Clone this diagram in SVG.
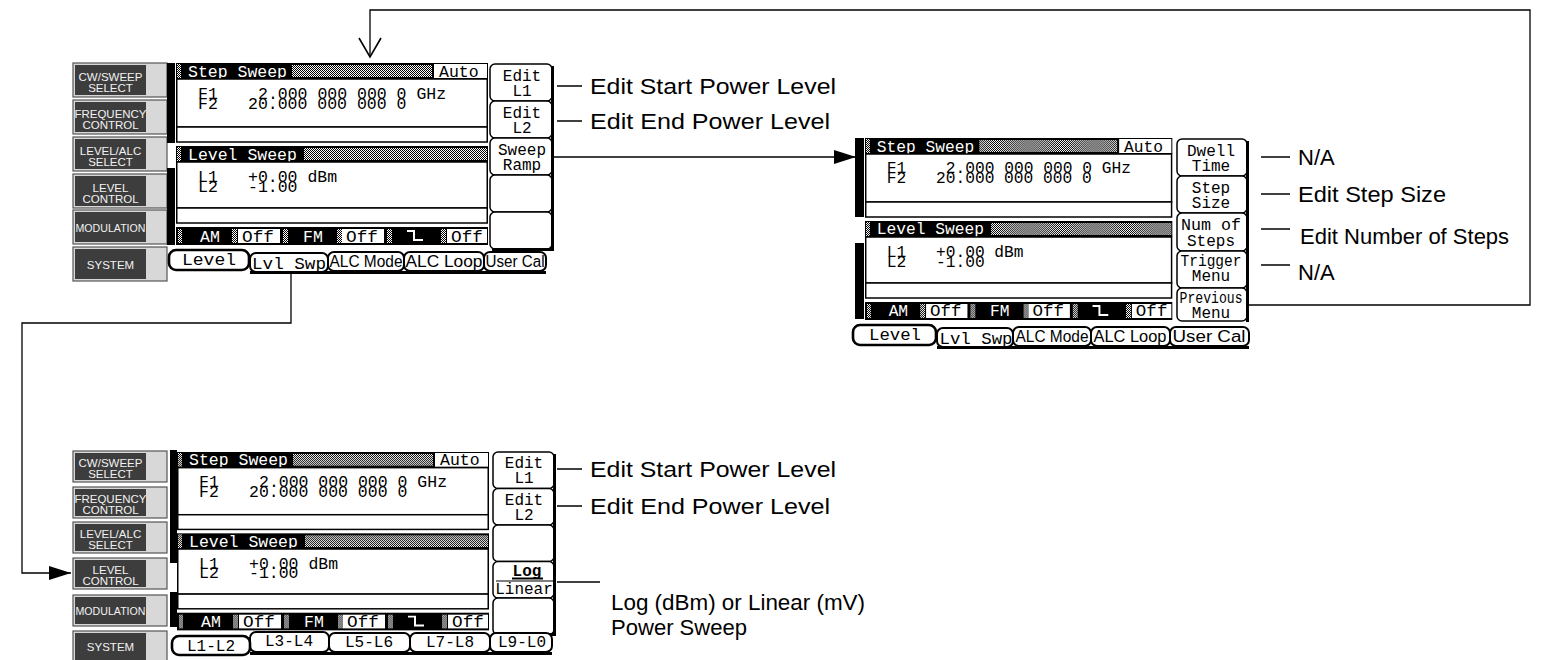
<svg xmlns="http://www.w3.org/2000/svg" width="1551" height="660" viewBox="0 0 1551 660">
<style>
.mono{font-family:"Liberation Mono","DejaVu Sans Mono",monospace;font-size:16.5px}
.w{fill:#fff}
.b{fill:#000}
.box{fill:#fff;stroke:#000;stroke-width:1.5}
.btnO{fill:#d8d8d8;stroke:#555;stroke-width:1.2}
.btnI{fill:#3d3d3d}
.btnT{font-family:"Liberation Sans",Arial,sans-serif;font-size:11.5px;fill:#f2f2f2;text-anchor:middle}
.sk{fill:#fff;stroke:#000;stroke-width:1.5}
.skT{font-family:"Liberation Mono","DejaVu Sans Mono",monospace;font-size:16px;text-anchor:middle}
.tab{fill:#fff;stroke:#000;stroke-width:2}
.tabA{fill:#fff;stroke:#000;stroke-width:2.6}
.tabT{font-family:"Liberation Mono","DejaVu Sans Mono",monospace;font-size:16px;text-anchor:middle}
.tabS{font-family:"Liberation Sans",Arial,sans-serif;font-size:16px;text-anchor:middle}
.lab{font-family:"Liberation Sans",Arial,sans-serif;font-size:22px;fill:#000}
.ld{stroke:#000;stroke-width:1.5}
.con{fill:none;stroke:#000;stroke-width:1.3}
</style>
<defs>
<pattern id="chk" width="2" height="2" patternUnits="userSpaceOnUse"><rect width="2" height="2" fill="#000"/><rect width="1" height="1" fill="#fff"/><rect x="1" y="1" width="1" height="1" fill="#fff"/></pattern>
<marker id="tri" markerUnits="userSpaceOnUse" markerWidth="24" markerHeight="16" refX="22" refY="7" orient="auto"><path d="M0,0 L22,7 L0,14 z" fill="#000"/></marker>
<marker id="vee" markerUnits="userSpaceOnUse" markerWidth="26" markerHeight="26" refX="20" refY="12" orient="auto"><path d="M1,1 L20,12 L1,23" fill="none" stroke="#000" stroke-width="1.6"/></marker>
<g id="scr">
<rect x="0" y="0" width="312" height="16" fill="#000"/>
<rect x="1" y="1" width="4" height="14" fill="url(#chk)"/>
<text x="12" y="13.5" class="mono w">Step Sweep</text>
<rect x="116" y="2" width="140" height="12" fill="url(#chk)"/>
<rect x="258" y="1" width="53" height="14" fill="#fff"/>
<text x="263" y="13.5" class="mono b">Auto</text>
<rect x="0.75" y="16" width="310.5" height="48" class="box"/>
<text x="22" y="35.5" class="mono b">F1</text>
<text x="82" y="35.5" class="mono b">2.000 000 000 0 GHz</text>
<text x="22" y="45.5" class="mono b">F2</text>
<text x="72" y="45.5" class="mono b">20.000 000 000 0</text>
<rect x="0.75" y="64" width="310.5" height="15" class="box"/>
<rect x="0" y="83" width="312" height="16" fill="#000"/>
<rect x="1" y="84" width="4" height="14" fill="url(#chk)"/>
<text x="12" y="96.5" class="mono w">Level Sweep</text>
<rect x="128" y="85" width="183" height="12" fill="url(#chk)"/>
<rect x="0.75" y="99" width="310.5" height="46" class="box"/>
<text x="22" y="119" class="mono b">L1</text>
<text x="72" y="119" class="mono b">+0.00 dBm</text>
<text x="22" y="129" class="mono b">L2</text>
<text x="72" y="129" class="mono b">-1.00</text>
<rect x="0.75" y="145" width="310.5" height="15" class="box"/>
<rect x="0" y="164" width="312" height="18" fill="#000"/>
<rect x="2" y="166" width="4" height="14" fill="url(#chk)"/>
<text x="24" y="178.5" class="mono w">AM</text>
<rect x="56" y="166" width="5" height="14" fill="url(#chk)"/>
<rect x="62" y="166" width="42" height="14" fill="#fff"/>
<text x="66" y="178.5" class="mono b" textLength="32" lengthAdjust="spacingAndGlyphs">Off</text>
<rect x="107" y="166" width="5" height="14" fill="url(#chk)"/>
<text x="127" y="178.5" class="mono w">FM</text>
<rect x="161" y="166" width="5" height="14" fill="url(#chk)"/>
<rect x="166" y="166" width="42" height="14" fill="#fff"/>
<text x="170" y="178.5" class="mono b" textLength="32" lengthAdjust="spacingAndGlyphs">Off</text>
<rect x="211" y="166" width="5" height="14" fill="url(#chk)"/>
<path d="M231,168 H238 V177 H247" fill="none" stroke="#fff" stroke-width="2"/>
<rect x="265" y="166" width="5" height="14" fill="url(#chk)"/>
<rect x="271" y="166" width="40" height="14" fill="#fff"/>
<text x="275" y="178.5" class="mono b" textLength="32" lengthAdjust="spacingAndGlyphs">Off</text>
</g>
</defs>
<rect width="1551" height="660" fill="#fff"/>

<!-- Top-left screen -->
<g id="screen-top">
<g id="buttons-top">
<rect x="73" y="63" width="94" height="34" class="btnO"/><rect x="75" y="65" width="71" height="30" class="btnI"/>
<text x="110.5" y="81" class="btnT">CW/SWEEP</text><text x="110.5" y="92" class="btnT">SELECT</text>
<rect x="73" y="100" width="94" height="34" class="btnO"/><rect x="75" y="102" width="71" height="30" class="btnI"/>
<text x="110.5" y="118" class="btnT" textLength="72" lengthAdjust="spacingAndGlyphs">FREQUENCY</text><text x="110.5" y="129" class="btnT">CONTROL</text>
<rect x="73" y="137" width="94" height="34" class="btnO"/><rect x="75" y="139" width="71" height="30" class="btnI"/>
<text x="110.5" y="155" class="btnT">LEVEL/ALC</text><text x="110.5" y="166" class="btnT">SELECT</text>
<rect x="73" y="174" width="94" height="34" class="btnO"/><rect x="75" y="176" width="71" height="30" class="btnI"/>
<text x="110.5" y="192" class="btnT">LEVEL</text><text x="110.5" y="203" class="btnT">CONTROL</text>
<rect x="73" y="210" width="94" height="34" class="btnO"/><rect x="75" y="212" width="71" height="30" class="btnI"/>
<text x="110.5" y="232" class="btnT" textLength="70" lengthAdjust="spacingAndGlyphs">MODULATION</text>
<rect x="73" y="247" width="94" height="34" class="btnO"/><rect x="75" y="249" width="71" height="30" class="btnI"/>
<text x="110.5" y="269" class="btnT">SYSTEM</text>
</g>
<rect x="167" y="63" width="8" height="80" fill="#000"/>
<rect x="167" y="168" width="8" height="77" fill="#000"/>
<use href="#scr" transform="translate(176,63)"/>
<g id="softkeys-top">
<rect x="490" y="64" width="62" height="37" rx="5" class="sk"/>
<rect x="490" y="101" width="62" height="37" rx="5" class="sk"/>
<rect x="490" y="138" width="62" height="37" rx="5" class="sk"/>
<rect x="490" y="175" width="62" height="37" rx="5" class="sk"/>
<rect x="490" y="212" width="62" height="37" rx="5" class="sk"/>
<rect x="551" y="66" width="3" height="184" fill="#000"/>
<rect x="492" y="248" width="62" height="3" fill="#000"/>
<text x="522" y="81" class="skT">Edit</text><text x="522" y="96" class="skT">L1</text>
<text x="522" y="118" class="skT">Edit</text><text x="522" y="133" class="skT">L2</text>
<text x="522" y="155" class="skT">Sweep</text><text x="522" y="170" class="skT">Ramp</text>
</g>
<g id="tabs-top">
<rect x="250" y="253" width="78" height="19" rx="6" class="tab"/>
<rect x="328" y="252" width="76" height="19" rx="6" class="tab"/>
<rect x="404" y="252" width="80" height="19" rx="6" class="tab"/>
<rect x="484" y="252" width="62" height="19" rx="6" class="tab"/>
<rect x="250" y="271" width="296" height="3" fill="#000"/>
<rect x="169" y="250" width="80" height="20" rx="7" class="tabA"/>
<text x="209" y="265" class="tabT" textLength="54" lengthAdjust="spacingAndGlyphs">Level</text>
<text x="289" y="269" class="tabT" textLength="74" lengthAdjust="spacingAndGlyphs">Lvl Swp</text>
<text x="366" y="267" class="tabS" textLength="73" lengthAdjust="spacingAndGlyphs">ALC Mode</text>
<text x="444" y="267" class="tabS" textLength="77" lengthAdjust="spacingAndGlyphs">ALC Loop</text>
<text x="515" y="267" class="tabS" textLength="59" lengthAdjust="spacingAndGlyphs">User Cal</text>
</g>
</g>

<!-- Right screen -->
<g id="screen-right">
<rect x="855" y="138" width="9" height="79" fill="#000"/>
<rect x="855" y="243" width="9" height="76" fill="#000"/>
<use href="#scr" transform="translate(865,138) scale(0.985,1)"/>
<g id="softkeys-right">
<rect x="1177" y="139" width="70" height="37" rx="5" class="sk"/>
<rect x="1177" y="176" width="70" height="37" rx="5" class="sk"/>
<rect x="1177" y="213" width="70" height="38" rx="5" class="sk"/>
<rect x="1177" y="251" width="70" height="37" rx="5" class="sk"/>
<rect x="1177" y="288" width="70" height="33" rx="5" class="sk"/>
<rect x="1246" y="141" width="3" height="181" fill="#000"/>
<text x="1211" y="156" class="skT">Dwell</text><text x="1211" y="171" class="skT">Time</text>
<text x="1211" y="193" class="skT">Step</text><text x="1211" y="208" class="skT">Size</text>
<text x="1211" y="230" class="skT" textLength="60" lengthAdjust="spacingAndGlyphs">Num of</text><text x="1211" y="246" class="skT">Steps</text>
<text x="1211" y="266" class="skT" textLength="61" lengthAdjust="spacingAndGlyphs">Trigger</text><text x="1211" y="281" class="skT">Menu</text>
<text x="1211" y="303" class="skT" textLength="63" lengthAdjust="spacingAndGlyphs">Previous</text><text x="1211" y="318" class="skT">Menu</text>
</g>
<g id="tabs-right">
<rect x="937" y="328" width="76" height="19" rx="6" class="tab"/>
<rect x="1013" y="327" width="78" height="19" rx="6" class="tab"/>
<rect x="1091" y="327" width="79" height="19" rx="6" class="tab"/>
<rect x="1170" y="327" width="79" height="19" rx="6" class="tab"/>
<rect x="937" y="346" width="312" height="3" fill="#000"/>
<rect x="853" y="325" width="83" height="20" rx="7" class="tabA"/>
<text x="895" y="340" class="tabT" textLength="52" lengthAdjust="spacingAndGlyphs">Level</text>
<text x="976" y="344" class="tabT" textLength="73" lengthAdjust="spacingAndGlyphs">Lvl Swp</text>
<text x="1052" y="342" class="tabS" textLength="73" lengthAdjust="spacingAndGlyphs">ALC Mode</text>
<text x="1130" y="342" class="tabS" textLength="73" lengthAdjust="spacingAndGlyphs">ALC Loop</text>
<text x="1209" y="342" class="tabS" textLength="73" lengthAdjust="spacingAndGlyphs">User Cal</text>
</g>
</g>

<!-- Bottom screen -->
<g id="screen-bottom">
<g id="buttons-bottom">
<rect x="73" y="451" width="94" height="31" class="btnO"/><rect x="75" y="453" width="71" height="27" class="btnI"/>
<text x="110.5" y="467" class="btnT">CW/SWEEP</text><text x="110.5" y="477.5" class="btnT">SELECT</text>
<rect x="73" y="487" width="94" height="31" class="btnO"/><rect x="75" y="489" width="71" height="27" class="btnI"/>
<text x="110.5" y="503" class="btnT" textLength="72" lengthAdjust="spacingAndGlyphs">FREQUENCY</text><text x="110.5" y="513.5" class="btnT">CONTROL</text>
<rect x="73" y="522" width="94" height="31" class="btnO"/><rect x="75" y="524" width="71" height="27" class="btnI"/>
<text x="110.5" y="538" class="btnT">LEVEL/ALC</text><text x="110.5" y="548.5" class="btnT">SELECT</text>
<rect x="73" y="558" width="94" height="31" class="btnO"/><rect x="75" y="560" width="71" height="27" class="btnI"/>
<text x="110.5" y="574" class="btnT">LEVEL</text><text x="110.5" y="584.5" class="btnT">CONTROL</text>
<rect x="73" y="595" width="94" height="31" class="btnO"/><rect x="75" y="597" width="71" height="27" class="btnI"/>
<text x="110.5" y="615" class="btnT" textLength="70" lengthAdjust="spacingAndGlyphs">MODULATION</text>
<rect x="73" y="631" width="94" height="31" class="btnO"/><rect x="75" y="633" width="71" height="27" class="btnI"/>
<text x="110.5" y="651" class="btnT">SYSTEM</text>
</g>
<rect x="170" y="450" width="7" height="113" fill="#000"/>
<rect x="170" y="592" width="7" height="35" fill="#000"/>
<use href="#scr" transform="translate(177,452) scale(1,0.98)"/>
<g id="softkeys-bottom">
<rect x="493" y="452" width="61" height="36.5" rx="5" class="sk"/>
<rect x="493" y="488.5" width="61" height="36.5" rx="5" class="sk"/>
<rect x="493" y="525" width="61" height="36.5" rx="5" class="sk"/>
<rect x="493" y="561.5" width="61" height="36.5" rx="5" class="sk"/>
<rect x="493" y="598" width="61" height="36.5" rx="5" class="sk"/>
<rect x="553" y="454" width="3" height="181" fill="#000"/>
<rect x="495" y="633" width="61" height="3" fill="#000"/>
<text x="524" y="468" class="skT">Edit</text><text x="524" y="483" class="skT">L1</text>
<text x="524" y="505" class="skT">Edit</text><text x="524" y="520" class="skT">L2</text>
<text x="527" y="576" class="skT" font-weight="bold">Log</text>
<line x1="512" y1="578.5" x2="543" y2="578.5" stroke="#000" stroke-width="2"/>
<line x1="496" y1="581" x2="553" y2="581" stroke="#000" stroke-width="1.2"/>
<text x="524" y="594" class="skT">Linear</text>
</g>
<g id="tabs-bottom">
<rect x="250" y="632" width="79" height="20" rx="6" class="tab"/>
<rect x="329" y="633" width="81" height="19" rx="6" class="tab"/>
<rect x="410" y="633" width="80" height="19" rx="6" class="tab"/>
<rect x="490" y="633" width="62" height="19" rx="6" class="tab"/>
<rect x="250" y="652" width="302" height="3" fill="#000"/>
<rect x="172" y="636" width="78" height="19" rx="7" class="tabA"/>
<text x="211" y="651" class="tabT">L1-L2</text>
<text x="289" y="646" class="tabT">L3-L4</text>
<text x="369" y="647" class="tabT">L5-L6</text>
<text x="450" y="647" class="tabT">L7-L8</text>
<text x="522" y="647" class="tabT">L9-L0</text>
</g>
</g>

<!-- Connectors -->
<g id="connectors">
<polyline points="1249,305 1530,305 1530,10 370,10 370,57" class="con" marker-end="url(#vee)"/>
<line x1="554" y1="157" x2="856" y2="157" class="con" marker-end="url(#tri)"/>
<polyline points="291,274 291,323 22,323 22,573 71,573" class="con" marker-end="url(#tri)"/>
</g>

<!-- Labels -->
<g id="labels-top">
<line x1="557" y1="86" x2="582" y2="86" class="ld"/>
<text x="590" y="94" class="lab" textLength="246" lengthAdjust="spacingAndGlyphs">Edit Start Power Level</text>
<line x1="557" y1="121" x2="582" y2="121" class="ld"/>
<text x="590" y="129" class="lab" textLength="240" lengthAdjust="spacingAndGlyphs">Edit End Power Level</text>
</g>
<g id="labels-right">
<line x1="1261" y1="157" x2="1290" y2="157" class="ld"/>
<text x="1298" y="165" class="lab">N/A</text>
<line x1="1261" y1="194" x2="1290" y2="194" class="ld"/>
<text x="1298" y="202" class="lab" textLength="148" lengthAdjust="spacingAndGlyphs">Edit Step Size</text>
<line x1="1261" y1="229" x2="1290" y2="229" class="ld"/>
<text x="1300" y="244" class="lab">Edit Number of Steps</text>
<line x1="1261" y1="265" x2="1290" y2="265" class="ld"/>
<text x="1298" y="280" class="lab">N/A</text>
</g>
<g id="labels-bottom">
<line x1="557" y1="469" x2="582" y2="469" class="ld"/>
<text x="590" y="477" class="lab" textLength="246" lengthAdjust="spacingAndGlyphs">Edit Start Power Level</text>
<line x1="557" y1="506" x2="582" y2="506" class="ld"/>
<text x="590" y="514" class="lab" textLength="240" lengthAdjust="spacingAndGlyphs">Edit End Power Level</text>
<line x1="557" y1="582" x2="600" y2="582" class="ld"/>
<text x="611" y="610" class="lab" font-size="21" textLength="254" lengthAdjust="spacingAndGlyphs">Log (dBm) or Linear (mV)</text>
<text x="611" y="635" class="lab" font-size="21" textLength="136" lengthAdjust="spacingAndGlyphs">Power Sweep</text>
</g>
</svg>
